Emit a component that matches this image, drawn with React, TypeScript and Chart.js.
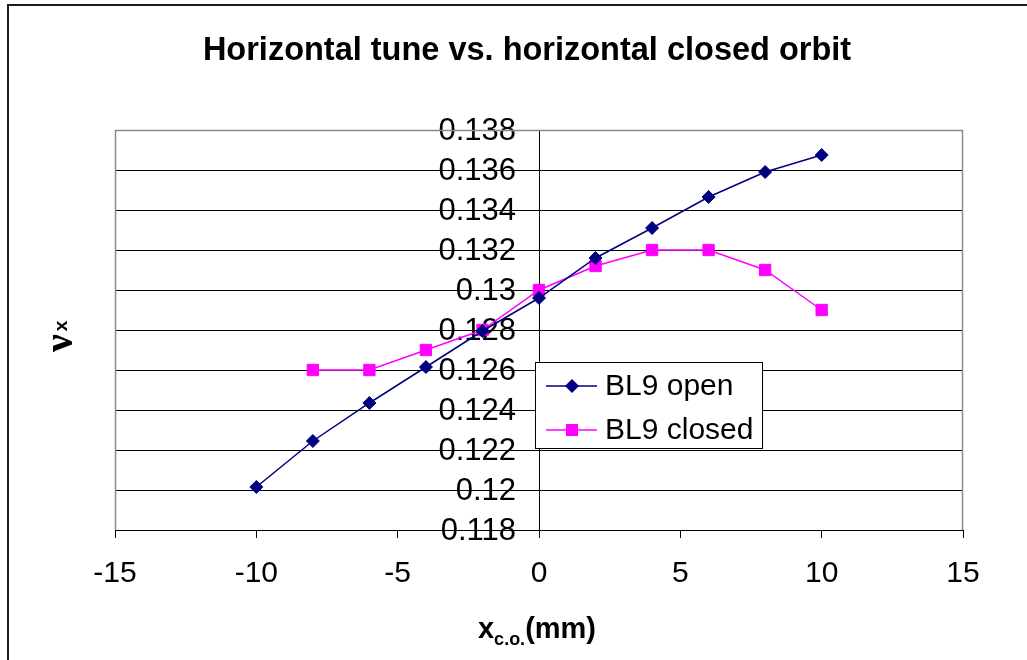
import React, { useEffect, useRef } from 'react';
import { Chart, registerables } from 'chart.js';

Chart.register(...registerables);

// ---- data ----
const chartTitle = 'Horizontal tune vs. horizontal closed orbit';
const seriesNames = ['BL9 open', 'BL9 closed'];
const openX = [-10, -8, -6, -4, -2, 0, 2, 4, 6, 8, 10];
const openY = [0.12015, 0.12245, 0.12435, 0.12615, 0.12795, 0.1296, 0.1316, 0.1331, 0.13465, 0.1359, 0.13675];
const closedX = [-8, -6, -4, -2, 0, 2, 4, 6, 8, 10];
const closedY = [0.126, 0.126, 0.127, 0.128, 0.13, 0.1312, 0.132, 0.132, 0.131, 0.129];
const xTicks = [-15, -10, -5, 0, 5, 10, 15];
const yTicks = [0.118, 0.12, 0.122, 0.124, 0.126, 0.128, 0.13, 0.132, 0.134, 0.136, 0.138];

const SANS = 'Arial, "Liberation Sans", sans-serif';
const openColor = '#000080';
const closedColor = '#FF00FF';

const fmtY = (v: number) => String(parseFloat(Number(v).toFixed(3)));

function drawDiamond(ctx: CanvasRenderingContext2D, x: number, y: number, r: number, color: string) {
  ctx.beginPath();
  ctx.moveTo(x, y - r);
  ctx.lineTo(x + r, y);
  ctx.lineTo(x, y + r);
  ctx.lineTo(x - r, y);
  ctx.closePath();
  ctx.fillStyle = color;
  ctx.fill();
}

function drawSquare(ctx: CanvasRenderingContext2D, x: number, y: number, h: number, color: string) {
  ctx.fillStyle = color;
  ctx.fillRect(x - h, y - h, 2 * h, 2 * h);
}

const decorPlugin = {
  id: 'decor',
  beforeDraw(chart: any) {
    const ctx = chart.ctx as CanvasRenderingContext2D;
    ctx.save();
    ctx.fillStyle = '#ffffff';
    ctx.fillRect(0, 0, chart.width, chart.height);
    ctx.restore();
  },
  beforeDatasetsDraw(chart: any) {
    // y tick labels, placed left of the y axis that crosses at x = 0
    const ctx = chart.ctx as CanvasRenderingContext2D;
    const ys = chart.scales.y;
    const xs = chart.scales.x;
    const axisX = xs.getPixelForValue(0);
    ctx.save();
    ctx.fillStyle = '#000';
    ctx.font = `31px ${SANS}`;
    ctx.textAlign = 'right';
    ctx.textBaseline = 'middle';
    ys.ticks.forEach((t: any) => {
      ctx.fillText(fmtY(t.value), axisX - 23, ys.getPixelForValue(t.value) + 1);
    });
    ctx.restore();
  },
  afterDraw(chart: any) {
    const ctx = chart.ctx as CanvasRenderingContext2D;
    const a = chart.chartArea;
    ctx.save();

    // outer frame (extends past right/bottom edges)
    ctx.strokeStyle = '#1a1a1a';
    ctx.lineWidth = 2;
    ctx.strokeRect(8, 5, chart.width + 20, chart.height + 20);

    // plot-area border (left, top, right)
    ctx.strokeStyle = '#8a8a8a';
    ctx.lineWidth = 1.5;
    ctx.beginPath();
    ctx.moveTo(a.left + 0.5, a.bottom);
    ctx.lineTo(a.left + 0.5, a.top + 0.5);
    ctx.lineTo(a.right - 0.5, a.top + 0.5);
    ctx.lineTo(a.right - 0.5, a.bottom);
    ctx.stroke();

    // title
    ctx.fillStyle = '#000';
    ctx.font = `bold 32.5px ${SANS}`;
    ctx.textAlign = 'center';
    ctx.textBaseline = 'alphabetic';
    ctx.fillText(chartTitle, 527, 60);

    // x axis title: x_c.o.(mm)
    ctx.textAlign = 'left';
    ctx.font = `bold 29px ${SANS}`;
    const xw = ctx.measureText('x').width;
    ctx.font = `bold 18px ${SANS}`;
    const sw = ctx.measureText('c.o.').width;
    ctx.font = `bold 29px ${SANS}`;
    const mw = ctx.measureText('(mm)').width;
    const total = xw + sw + mw;
    let sx = 537 - total / 2;
    ctx.fillText('x', sx, 638);
    sx += xw;
    ctx.font = `bold 18px ${SANS}`;
    ctx.fillText('c.o.', sx, 645);
    sx += sw;
    ctx.font = `bold 29px ${SANS}`;
    ctx.fillText('(mm)', sx, 638);

    // y axis title: nu_x rotated
    ctx.save();
    ctx.translate(72, 352);
    ctx.rotate(-Math.PI / 2);
    ctx.font = `bold 40px "Liberation Serif", "DejaVu Serif", serif`;
    ctx.fillText('\u03BD', 0, 0);
    const nw = ctx.measureText('\u03BD').width;
    ctx.font = `bold 19px ${SANS}`;
    ctx.fillText('x', nw + 3, -5);
    ctx.restore();

    // legend
    const lx = 535, ly = 362, lw = 227, lh = 86;
    ctx.fillStyle = '#fff';
    ctx.fillRect(lx, ly, lw, lh);
    ctx.strokeStyle = '#000';
    ctx.lineWidth = 1;
    ctx.strokeRect(lx + 0.5, ly + 0.5, lw, lh);
    const rows = [386, 430];
    const colors = [openColor, closedColor];
    ctx.font = `30px ${SANS}`;
    ctx.textBaseline = 'middle';
    rows.forEach((ry, i) => {
      ctx.strokeStyle = colors[i];
      ctx.lineWidth = 1.5;
      ctx.beginPath();
      ctx.moveTo(546, ry);
      ctx.lineTo(597, ry);
      ctx.stroke();
      if (i === 0) drawDiamond(ctx, 572, ry, 7, colors[i]);
      else drawSquare(ctx, 572, ry, 6, colors[i]);
      ctx.fillStyle = '#000';
      ctx.fillText(seriesNames[i], 605, ry + 1);
    });

    ctx.restore();
  },
};

export default function App() {
  const ref = useRef<HTMLCanvasElement | null>(null);

  useEffect(() => {
    document.body.style.margin = '0';
    const canvas = ref.current;
    if (!canvas) return;
    const chart = new Chart(canvas, {
      type: 'scatter',
      data: {
        datasets: [
          {
            label: seriesNames[0],
            data: openX.map((x, i) => ({ x, y: openY[i] })),
            showLine: true,
            borderColor: openColor,
            backgroundColor: openColor,
            borderWidth: 1.5,
            pointStyle: 'rectRot',
            pointRadius: 6.5,
            pointBorderWidth: 1,
            pointBorderColor: openColor,
            pointBackgroundColor: openColor,
          },
          {
            label: seriesNames[1],
            data: closedX.map((x, i) => ({ x, y: closedY[i] })),
            showLine: true,
            borderColor: closedColor,
            backgroundColor: closedColor,
            borderWidth: 1.5,
            pointStyle: 'rect',
            pointRadius: 8,
            pointBorderWidth: 1,
            pointBorderColor: closedColor,
            pointBackgroundColor: closedColor,
          },
        ],
      },
      options: {
        responsive: false,
        animation: false,
        devicePixelRatio: 1,
        layout: { padding: { left: 115, right: 64, top: 130, bottom: 0 } },
        plugins: {
          legend: { display: false },
          title: { display: false },
          tooltip: { enabled: false },
        },
        scales: {
          x: {
            type: 'linear',
            position: 'bottom',
            min: -15,
            max: 15,
            afterBuildTicks: (scale: any) => {
              scale.ticks = xTicks.map((v) => ({ value: v }));
            },
            afterFit: (scale: any) => {
              scale.height = 130;
            },
            ticks: {
              color: '#000',
              font: { family: SANS, size: 30 },
              padding: 18,
              maxRotation: 0,
              autoSkip: false,
            },
            grid: {
              drawOnChartArea: false,
              drawTicks: true,
              tickLength: 8,
              color: '#000',
              lineWidth: 1,
            },
            border: { display: true, color: '#000', width: 1 },
          },
          y: {
            type: 'linear',
            position: { x: 0 } as any,
            min: 0.118,
            max: 0.138,
            afterBuildTicks: (scale: any) => {
              scale.ticks = yTicks.map((v) => ({ value: v }));
            },
            ticks: {
              display: false,
              autoSkip: false,
            },
            grid: {
              drawOnChartArea: true,
              drawTicks: true,
              tickLength: 8,
              color: '#000',
              lineWidth: 1,
            },
            border: { display: true, color: '#000', width: 1 },
          },
        },
      },
      plugins: [decorPlugin],
    });
    return () => chart.destroy();
  }, []);

  return (
    <div style={{ position: 'absolute', left: 0, top: 0, width: 1027, height: 660 }}>
      <canvas ref={ref} width={1027} height={660} />
    </div>
  );
}
